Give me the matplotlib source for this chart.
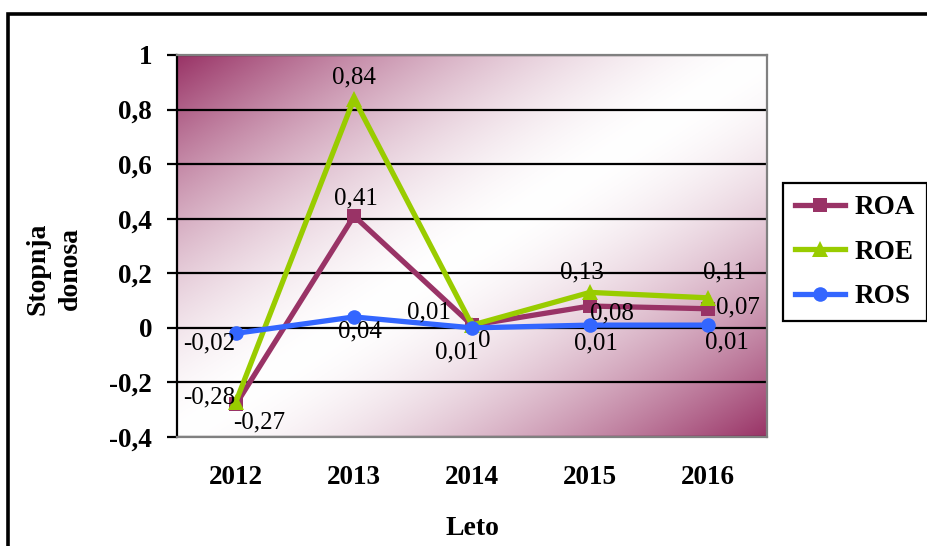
import numpy as np
import matplotlib
matplotlib.use("Agg")
import matplotlib.pyplot as plt
from matplotlib.colors import to_rgb
from matplotlib.patches import Rectangle

# ---- data ----
years = ["2012", "2013", "2014", "2015", "2016"]
roa = [-0.28, 0.41, 0.01, 0.08, 0.07]
roe = [-0.27, 0.84, 0.01, 0.13, 0.11]
ros = [-0.02, 0.04, 0.00, 0.01, 0.01]
series_names = ["ROA", "ROE", "ROS"]
y_ticks = [-0.4, -0.2, 0.0, 0.2, 0.4, 0.6, 0.8, 1.0]

# label offsets in pixels (dx, dy with dy positive = down)
label_offsets = {
    "ROA": [(-27, -7), (2, -18), (-43, -13), (22, 7), (30, -1)],
    "ROE": [(23, 21), (0, -21), (-15, 27), (-8, -20), (17, -25)],
    "ROS": [(-27, 10), (6, 15), (12, 13), (6, 18), (19, 17)],
}

colors = {"ROA": "#993366", "ROE": "#99CC00", "ROS": "#3366FF"}
markers = {"ROA": "s", "ROE": "^", "ROS": "o"}
msizes = {"ROA": 10, "ROE": 11.5, "ROS": 10.5}

plt.rcParams["font.family"] = ["Liberation Serif", "DejaVu Serif"]


def fmt(v):
    v = round(v, 2)
    if v == 0:
        return "0"
    return f"{v:g}".replace(".", ",")


W, H = 928, 546
fig = plt.figure(figsize=(W / 100, H / 100), dpi=100)
fig.patch.set_facecolor("white")

# outer frame of the chart object
fig.patches.append(Rectangle((7.5 / W, -0.1), 1.2, 1 - 13.5 / H + 0.1,
                             transform=fig.transFigure, fill=False,
                             edgecolor="black", linewidth=2.6, zorder=0))

left, right, top, bottom = 177, 767, 55, 437
ax = fig.add_axes([left / W, 1 - bottom / H, (right - left) / W, (bottom - top) / H])

x = np.arange(len(years))
xmin, xmax, ymin, ymax = -0.5, len(years) - 0.5, -0.4, 1.0

# diagonal two-sided gradient fill of the plot area
nx, ny = 400, 260
u = np.linspace(0, 1, nx)[None, :]
v = np.linspace(0, 1, ny)[:, None]
t = (u + v) / 2.0
f = np.abs(1 - 2 * t) ** 1.6
purple = np.array(to_rgb("#993366"))
img = (1 - f)[..., None] * np.ones(3) + f[..., None] * purple
ax.imshow(img, extent=[xmin, xmax, ymin, ymax], aspect="auto",
          origin="upper", zorder=0, interpolation="bilinear")

ax.set_axisbelow(True)
ax.yaxis.grid(True, color="black", linewidth=1.6)

data = {"ROA": roa, "ROE": roe, "ROS": ros}
for i, name in enumerate(series_names):
    vals = data[name]
    ax.plot(x, vals, color=colors[name], linewidth=3.8, marker=markers[name],
            markersize=msizes[name], markeredgewidth=0, label=name,
            zorder=3 + i, solid_joinstyle="miter")
    for xi, val, (dx, dy) in zip(x, vals, label_offsets[name]):
        ax.annotate(fmt(val), (xi, val), xytext=(dx, -dy),
                    textcoords="offset pixels", ha="center", va="center",
                    fontsize=18, color="black", zorder=10,
                    annotation_clip=False)

ax.set_xlim(xmin, xmax)
ax.set_ylim(ymin, ymax)
ax.set_xticks(x)
ax.set_xticklabels(years)
ax.set_yticks(y_ticks)
ax.set_yticklabels([fmt(t_) for t_ in y_ticks])

for lab in ax.get_xticklabels() + ax.get_yticklabels():
    lab.set_fontweight("bold")
    lab.set_fontsize(19.5)

ax.tick_params(axis="x", length=0, pad=20)
ax.tick_params(axis="y", length=7, width=1.6, direction="out", pad=11,
               color="black")

for s in ["top", "right", "bottom"]:
    ax.spines[s].set_color("#808080")
    ax.spines[s].set_linewidth(1.6)
ax.spines["left"].set_color("black")
ax.spines["left"].set_linewidth(1.6)

fig.text(472 / W, 1 - 535 / H, "Leto", ha="center", va="baseline",
         fontsize=20, fontweight="bold")
fig.text(54 / W, 1 - 269 / H, "Stopnja\ndonosa", ha="center", va="center",
         rotation=90, fontsize=20, fontweight="bold", multialignment="center",
         linespacing=1.4)

leg = fig.legend(loc="upper left", bbox_to_anchor=(783 / W, 1 - 183 / H),
                 bbox_transform=fig.transFigure, borderaxespad=0,
                 prop={"weight": "bold", "size": 19.5}, frameon=True,
                 fancybox=False, edgecolor="black", facecolor="white",
                 framealpha=1, handlelength=1.85, handletextpad=0.35,
                 labelspacing=0.72, borderpad=0.45)
leg.get_frame().set_linewidth(1.6)

fig.savefig("out.png", dpi=100)
